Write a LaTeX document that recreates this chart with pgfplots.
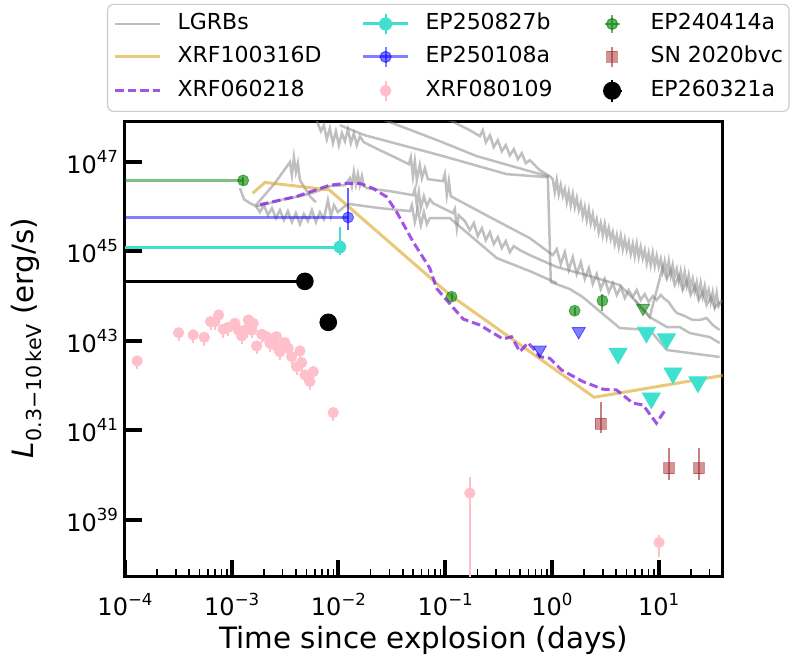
\documentclass[border=0pt]{standalone}
\usepackage{fontspec}
\setmainfont{DejaVu Sans}
\usepackage{pgfplots}
\pgfplotsset{compat=1.18}
\definecolor{turq}{RGB}{64,224,208}
\definecolor{lgreen}{RGB}{0,128,0}
\definecolor{gold}{RGB}{218,165,32}
\definecolor{bviolet}{RGB}{138,43,226}
\definecolor{pinkc}{RGB}{255,192,203}
\definecolor{brownc}{RGB}{165,42,42}
\newcommand{\tp}[1]{10\raisebox{0.45em}{\fontsize{8.3pt}{8.3pt}\selectfont #1}}
\begin{document}
\begin{tikzpicture}
\begin{axis}[
  at={(0,0)}, anchor=south west,
  scale only axis, width=299pt, height=227.5pt,
  xmode=log, ymode=log,
  xmin=1e-4, xmax=40, ymin=5.3e37, ymax=7.8e47,
  xtick={1e-4,1e-3,1e-2,1e-1,1,10},
  xticklabels={\tp{−4},\tp{−3},\tp{−2},\tp{−1},\tp{0},\tp{1}},
  minor xtick={2e-4,3e-4,4e-4,5e-4,6e-4,7e-4,8e-4,9e-4,2e-3,3e-3,4e-3,5e-3,6e-3,7e-3,8e-3,9e-3,0.02,0.03,0.04,0.05,0.06,0.07,0.08,0.09,0.2,0.3,0.4,0.5,0.6,0.7,0.8,0.9,2,3,4,5,6,7,8,9,20,30},
  ytick={1e39,1e41,1e43,1e45,1e47},
  yticklabels={\tp{39},\tp{41},\tp{43},\tp{45},\tp{47}},
  yminorticks=false,
  tick align=inside, tick pos=left,
  major tick length=8.5pt, minor tick length=4pt,
  major tick style={black, line width=2pt},
  minor tick style={black, line width=0.8pt},
  axis line style={line width=1.5pt},
  ticklabel style={font=\fontsize{12}{14}\selectfont},
  xticklabel style={anchor=base, yshift=-19.5pt},
  xlabel={Time since explosion (days)},
  ylabel={\textit{L}\raisebox{-0.28em}{\fontsize{10.3pt}{10.3pt}\selectfont 0.3−10\,keV} (erg/s)},
  every axis x label/.style={at={(rel axis cs:0.5,0)}, anchor=base, yshift=-36pt, font=\fontsize{14.7}{17}\selectfont},
  every axis y label/.style={at={(rel axis cs:0,0.525)}, xshift=-45.75pt, anchor=base, rotate=90, font=\fontsize{14.7}{17}\selectfont},
  legend columns=3,
  legend cell align=left,
  legend style={at={(-0.0301,1)}, anchor=south west, yshift=5pt,
    draw=black!20, line width=0.6pt, rounded corners=3pt,
    font=\fontsize{11}{13}\selectfont,
    inner xsep=3pt, inner ysep=4.3pt,
    nodes={inner sep=0pt, anchor=west, text height=8pt, text depth=2.3pt},
    row sep=5.45pt,
    /tikz/every odd column/.append style={column sep=8pt}},
]
% ---------- legend ----------
\addlegendimage{legend image code/.code={\path[draw=none,fill=none] (0pt,-5pt) rectangle (22.5pt,5pt); \draw[gray,opacity=0.5,line width=1.25pt,rounded corners=0pt] (0pt,0pt)--(22.5pt,0pt);}}
\addlegendentry{\makebox[92pt][l]{LGRBs}}
\addlegendimage{legend image code/.code={\path[draw=none,fill=none] (0pt,-5pt) rectangle (22.5pt,5pt); \draw[turq,line width=1.5pt] (0pt,0pt)--(22.5pt,0pt); \draw[turq,line width=1pt] (11.25pt,-5pt)--(11.25pt,5pt); \fill[turq] (11.25pt,0pt) circle (3pt);}}
\addlegendentry{\makebox[82pt][l]{EP250827b}}
\addlegendimage{legend image code/.code={\path[draw=none,fill=none] (0pt,-5pt) rectangle (22.5pt,5pt); \draw[lgreen,opacity=0.6,line width=1pt] (7.5pt,0pt)--(15pt,0pt) (11.25pt,-4.5pt)--(11.25pt,4.5pt); \filldraw[lgreen,fill opacity=0.6,draw opacity=0.6,line width=0.6pt] (11.25pt,0pt) circle (2.75pt);}}
\addlegendentry{EP240414a}
\addlegendimage{legend image code/.code={\path[draw=none,fill=none] (0pt,-5pt) rectangle (22.5pt,5pt); \draw[gold,opacity=0.6,line width=1.5pt] (0pt,0pt)--(22.5pt,0pt);}}
\addlegendentry{\makebox[92pt][l]{XRF100316D}}
\addlegendimage{legend image code/.code={\path[draw=none,fill=none] (0pt,-5pt) rectangle (22.5pt,5pt); \draw[blue,opacity=0.5,line width=1.5pt] (0pt,0pt)--(22.5pt,0pt); \draw[blue,opacity=0.5,line width=1pt] (11.25pt,-5pt)--(11.25pt,5pt); \filldraw[blue,fill opacity=0.5,draw opacity=0.5,line width=0.6pt] (11.25pt,0pt) circle (2.75pt);}}
\addlegendentry{\makebox[82pt][l]{EP250108a}}
\addlegendimage{legend image code/.code={\path[draw=none,fill=none] (0pt,-5pt) rectangle (22.5pt,5pt); \draw[brownc,opacity=0.6,line width=1pt] (11.25pt,-5pt)--(11.25pt,5pt); \filldraw[brownc,fill opacity=0.5,draw opacity=0.5,line width=0.6pt,rounded corners=0pt] (8.55pt,-2.7pt) rectangle (13.95pt,2.7pt);}}
\addlegendentry{SN 2020bvc}
\addlegendimage{legend image code/.code={\path[draw=none,fill=none] (0pt,-5pt) rectangle (22.5pt,5pt); \draw[bviolet,opacity=0.8,line width=1.5pt,dash pattern=on 4.25pt off 2pt] (0pt,0pt)--(22.5pt,0pt);}}
\addlegendentry{XRF060218}
\addlegendimage{legend image code/.code={\path[draw=none,fill=none] (0pt,-5pt) rectangle (22.5pt,5pt); \draw[pinkc,line width=1pt] (11.25pt,-5pt)--(11.25pt,5pt); \fill[pinkc] (11.25pt,0pt) circle (2.6pt);}}
\addlegendentry{XRF080109}
\addlegendimage{legend image code/.code={\path[draw=none,fill=none] (0pt,-5pt) rectangle (22.5pt,5pt); \draw[black,line width=1pt] (6.5pt,0pt)--(16pt,0pt) (11.25pt,-5.5pt)--(11.25pt,5.5pt); \fill[black] (11.25pt,0pt) circle (4.2pt);}}
\addlegendentry{EP260321a}
% ---------- LGRBs ----------
\pgfplotsset{grb/.style={forget plot, draw=gray, draw opacity=0.5, line width=1.25pt, mark=none}}
\addplot[grb] coordinates {(1.03e-2,6.59e47) (1.766e-2,3.94e47) (8.89e-2,1.41e47) (0.3776,5.31e46) (0.914,4.55e46)};
\addplot[grb] coordinates {(2.06e-2,1.10e48) (3.23e-2,7.31e47) (8.89e-2,2.90e47) (0.198,1.34e47) (0.619,6.19e46) (0.914,4.80e46) (0.975,2.06e44) (1.47,1.44e44) (1.94,9.55e43) (4.31,1.94e43) (8.24,1.75e43) (11.9,6.26e42) (37.2,4.37e42)};
\addplot[grb] coordinates {(8.89e-2,1.10e48) (0.1256,7.31e47) (0.170,5.10e47) (0.211,3.75e47) (0.225,5.10e47) (0.240,2.75e47) (0.262,3.94e47) (0.285,2.13e47) (0.311,3.05e47) (0.339,1.73e47) (0.369,2.36e47) (0.403,1.41e47) (0.439,1.92e47) (0.479,1.15e47) (0.521,1.56e47) (0.569,9.35e46) (0.619,1.09e47) (0.769,6.53e46) (0.953,4.80e46)
 (1.017,4.11e46) (1.062,2.11e46) (1.109,3.91e46) (1.158,1.90e46) (1.208,3.02e46) (1.262,1.71e46) (1.318,2.46e46) (1.376,1.26e46) (1.436,2.11e46) (1.499,1.08e46) (1.566,1.90e46) (1.635,9.75e45) (1.706,1.55e46) (1.782,8.35e45) (1.862,1.20e46) (1.943,6.14e45) (2.028,9.75e45) (2.119,5.00e45) (2.213,8.80e45) (2.309,4.28e45) (2.410,6.80e45) (2.515,3.67e45) (2.624,5.26e45) (2.741,2.70e45) (2.864,4.28e45) (2.989,2.31e45) (3.119,4.07e45) (3.258,2.09e45) (3.404,3.31e45) (3.552,1.88e45) (3.707,2.70e45) (3.873,1.46e45) (4.046,2.31e45) (4.222,1.25e45) (4.406,2.20e45) (4.603,1.12e45) (4.808,1.88e45) (5.017,1.07e45) (5.236,1.61e45) (5.470,8.70e44) (5.715,1.46e45) (5.963,7.86e44) (6.223,1.46e45) (6.494,7.46e44) (6.776,1.25e45) (7.079,7.08e44) (7.396,1.07e45) (7.718,5.48e44) (8.054,9.16e44) (8.414,4.95e44) (8.790,9.16e44) (9.173,4.70e44) (9.572,7.86e44) (10.00,4.47e44) (10.45,6.73e44) (10.90,3.63e44) (11.38,6.07e44) (11.89,3.28e44) (12.42,6.07e44) (12.96,2.96e44) (13.52,4.95e44) (14.13,2.81e44) (14.76,4.03e44) (15.40,2.17e44) (16.07,3.63e44) (16.77,1.86e44) (17.50,3.45e44) (18.28,1.77e44) (19.10,2.96e44) (19.93,1.60e44) (20.80,2.41e44) (21.73,1.30e44) (22.70,2.06e44) (23.69,1.11e44) (24.72,1.96e44) (25.83,1.00e44) (26.98,1.68e44) (28.16,9.55e43) (29.38,1.37e44) (30.69,7.38e43) (32.06,1.23e44) (33.46,6.33e43) (34.91,1.17e44) (36.4,6.01e43) (38.9,8.18e43)};
\addplot[grb] coordinates {(6.14e-3,9.45e47) (6.84e-3,4.84e47) (7.29e-3,6.59e47) (7.78e-3,3.21e47) (8.30e-3,5.65e47) (8.87e-3,2.61e47) (9.46e-3,4.84e47) (1.009e-2,2.36e47) (1.076e-2,4.37e47) (1.148e-2,2.90e47) (1.225e-2,5.37e47) (1.306e-2,2.61e47) (1.393e-2,4.37e47) (1.486e-2,2.36e47) (1.585e-2,3.75e47) (1.730e-2,2.75e47) (2.443e-2,1.82e47) (3.37e-2,1.27e47) (4.56e-2,8.89e46) (4.76e-2,1.27e47) (4.98e-2,4.80e46) (5.19e-2,1.04e47) (5.42e-2,3.91e46) (5.78e-2,8.44e46) (6.04e-2,4.33e46) (6.44e-2,7.23e46) (6.87e-2,4.11e46) (9.51e-2,3.71e46) (9.91e-2,5.31e46) (0.1035,1.81e46) (0.1081,3.71e46) (0.1127,1.71e46) (0.262,5.83e45) (0.619,1.98e45)
 (1.017,8.26e44) (1.109,1.12e45) (1.208,5.20e44) (1.318,9.64e44) (1.436,3.83e44) (1.566,7.46e44) (1.706,3.11e44) (1.862,5.77e44) (2.028,2.41e44) (2.213,4.24e44) (2.410,1.86e44) (2.624,3.11e44) (2.864,1.44e44) (3.119,2.41e44) (3.404,1.23e44) (3.707,1.96e44) (4.046,1.06e44) (4.406,1.60e44) (4.808,9.07e43) (5.236,1.37e44) (5.715,9.55e43) (6.223,1.37e44) (6.776,8.18e43) (7.396,1.11e44) (8.054,7.38e43) (8.790,1.00e44) (9.572,8.18e43) (10.45,1.06e44) (11.38,8.61e43) (12.42,7.38e43) (13.52,5.42e43) (14.76,4.20e43) (17.50,3.60e43) (20.80,2.93e43) (24.2,2.93e43) (28.1,3.24e43) (32.06,2.26e43) (37.24,1.75e43)};
\addplot[grb] coordinates {(1.194e-3,2.59e46) (1.301e-3,1.47e46) (1.480e-3,1.20e46) (1.685e-3,1.03e46) (1.960e-3,1.08e46) (2.280e-3,1.20e46) (2.827e-3,1.40e46) (3.507e-3,1.55e46) (4.35e-3,1.71e46) (6.01e-3,2.11e46) (8.30e-3,2.87e46) (1.148e-2,3.02e46) (1.279e-2,4.33e46) (1.334e-2,2.87e46) (1.393e-2,5.89e46) (1.455e-2,3.18e46) (1.520e-2,5.31e46) (1.585e-2,3.02e46) (1.656e-2,4.80e46) (1.730e-2,2.87e46) (1.845e-2,2.59e46) (3.03e-2,2.22e46) (4.98e-2,1.81e46) (5.19e-2,2.46e46) (5.42e-2,1.08e46) (5.66e-2,2.11e46) (5.91e-2,9.26e45) (6.31e-2,1.71e46) (6.73e-2,1.03e46) (7.18e-2,1.47e46) (7.66e-2,1.20e46) (0.1178,7.16e45) (0.1230,8.80e45) (0.1285,3.31e45) (0.1340,6.46e45) (0.1528,4.75e45) (0.170,2.99e45) (0.1854,4.28e45) (0.2018,2.20e45) (0.2203,3.31e45) (0.240,1.79e45) (0.262,2.70e45) (0.285,1.46e45) (0.311,2.09e45) (0.339,1.19e45) (0.369,1.70e45) (0.403,9.64e44) (0.439,1.31e45) (0.500,1.07e45) (0.619,8.26e44) (1.109,4.47e44) (2.26,2.81e44) (4.31,1.77e44) (5.96,8.18e43) (8.24,3.41e43) (11.9,2.04e43) (15.7,2.04e43) (19.5,1.50e43) (30.0,1.22e43) (37.2,8.97e42)};
\addplot[grb] coordinates {(1.685e-3,1.03e46) (1.837e-3,7.54e45) (2.001e-3,1.08e46) (2.183e-3,6.46e45) (2.379e-3,9.26e45) (2.594e-3,5.54e45) (2.827e-3,8.35e45) (3.083e-3,5.00e45) (3.359e-3,7.94e45) (3.662e-3,4.51e45) (3.992e-3,7.16e45) (4.35e-3,4.07e45) (4.74e-3,6.80e45) (5.17e-3,4.75e45) (5.64e-3,8.35e45) (6.14e-3,4.51e45) (6.70e-3,7.54e45) (7.29e-3,5.26e45) (7.96e-3,1.40e46) (8.49e-3,6.14e45) (9.06e-3,1.08e46) (9.86e-3,7.54e45) (1.148e-2,1.03e46) (1.279e-2,1.14e46) (2.443e-2,9.26e45) (4.67e-2,7.94e45) (4.87e-2,1.08e46) (5.19e-2,4.51e45) (5.53e-2,8.80e45) (5.91e-2,3.86e45) (6.31e-2,7.54e45) (6.73e-2,4.07e45) (7.18e-2,5.54e45) (0.1104,5.54e45) (0.170,2.31e45) (0.304,7.08e44) (0.619,3.63e44) (1.109,1.96e44)};
\addplot[grb] coordinates {(1.685e-3,1.08e46) (2.538e-3,3.35e46) (3.507e-3,9.85e46) (3.662e-3,5.05e46) (3.823e-3,1.27e47) (3.992e-3,5.89e46) (4.168e-3,9.35e46) (4.35e-3,3.91e46) (4.845e-3,2.59e46) (5.40e-3,1.71e46) (6.14e-3,1.26e46)};
\addplot[grb] coordinates {(5.96,8.18e43) (8.24,3.41e43) (10.90,4.47e44) (11.9,2.41e44) (12.95,3.83e44) (14.12,1.77e44) (15.39,2.81e44) (16.78,1.37e44) (18.28,2.17e44) (19.94,1.06e44) (21.73,1.68e44) (23.70,8.18e43) (25.82,1.23e44) (28.1,6.33e43) (30.69,9.55e43) (33.42,5.42e43) (37.2,7.38e43)};
% ---------- XRF100316D ----------
\addplot[forget plot, draw=gold, draw opacity=0.6, line width=1.5pt] coordinates {(1.57e-3,2.0e46) (2.05e-3,3.47e46) (8.2e-3,2.37e46) (0.1104,1.07e44) (2.48,5.5e41) (40,1.69e42)};
% ---------- XRF060218 ----------
\addplot[forget plot, draw=bviolet, draw opacity=0.8, line width=1.5pt, dash pattern=on 4.25pt off 2pt] coordinates {(1.84e-3,1.11e46) (4.06e-3,1.69e46) (8.30e-3,3.02e46) (1.15e-2,3.30e46) (1.585e-2,3.30e46) (2.11e-2,2.55e46) (2.82e-2,1.66e46) (3.50e-2,7.66e45) (5.0e-2,1.64e45) (7.18e-2,4.18e44) (8.30e-2,1.49e44) (0.103,8.18e43) (0.147,3.08e43) (0.211,2.26e43) (0.348,1.10e43) (0.418,1.24e43) (0.500,5.74e42) (0.597,9.12e42) (0.665,6.84e42) (0.769,4.44e42) (0.953,4.09e42) (1.227,2.24e42) (1.954,1.23e42) (3.01,8.32e41) (4.02,8.02e41) (5.74,4.05e41) (7.13,3.71e41) (9.51,1.45e41) (11.8,3.13e41)};
% ---------- horizontal lines ----------
\addplot[forget plot, draw=lgreen, draw opacity=0.5, line width=1.5pt] coordinates {(1e-4,3.85e46) (1.28e-3,3.85e46)};
\addplot[forget plot, draw=blue, draw opacity=0.5, line width=1.5pt] coordinates {(1e-4,5.74e45) (0.0123,5.74e45)};
\addplot[forget plot, draw=turq, line width=1.5pt] coordinates {(1e-4,1.25e45) (0.0103,1.25e45)};
\addplot[forget plot, draw=black, line width=1.5pt] coordinates {(1e-4,2.14e44) (4.84e-3,2.14e44)};
% ---------- XRF080109 ----------
\addplot[forget plot, draw=pinkc, line width=1pt, unbounded coords=jump] coordinates {
(1.30e-4,3.56e42) (1.30e-4,2.31e42) (1.30e-4,nan)
(3.18e-4,1.52e43) (3.18e-4,9.9e42) (3.18e-4,nan)
(4.36e-4,1.36e43) (4.36e-4,8.8e42) (4.36e-4,nan)
(5.53e-4,1.20e43) (5.53e-4,7.8e42) (5.53e-4,nan)
(6.34e-4,2.69e43) (6.34e-4,1.75e43) (6.34e-4,nan)
(6.96e-4,2.69e43) (6.96e-4,1.75e43) (6.96e-4,nan)
(7.54e-4,3.79e43) (7.54e-4,2.46e43) (7.54e-4,nan)
(8.33e-4,1.82e43) (8.33e-4,1.18e43) (8.33e-4,nan)
(9.27e-4,2.01e43) (9.27e-4,1.31e43) (9.27e-4,nan)
(1.07e-3,2.47e43) (1.07e-3,1.61e43) (1.07e-3,nan)
(1.15e-3,1.75e43) (1.15e-3,1.14e43) (1.15e-3,nan)
(1.24e-3,1.29e43) (1.24e-3,8.4e42) (1.24e-3,nan)
(1.28e-3,1.52e43) (1.28e-3,9.9e42) (1.28e-3,nan)
(1.38e-3,1.82e43) (1.38e-3,1.18e43) (1.38e-3,nan)
(1.43e-3,2.93e43) (1.43e-3,1.90e43) (1.43e-3,nan)
(1.54e-3,1.75e43) (1.54e-3,1.14e43) (1.54e-3,nan)
(1.59e-3,2.47e43) (1.59e-3,1.61e43) (1.59e-3,nan)
(1.71e-3,7.69e42) (1.71e-3,5.0e42) (1.71e-3,nan)
(1.91e-3,1.40e43) (1.91e-3,9.1e42) (1.91e-3,nan)
(2.12e-3,1.24e43) (2.12e-3,8.1e42) (2.12e-3,nan)
(2.28e-3,8.83e42) (2.28e-3,5.7e42) (2.28e-3,nan)
(2.36e-3,1.09e43) (2.36e-3,7.1e42) (2.36e-3,nan)
(2.54e-3,8.10e42) (2.54e-3,5.3e42) (2.54e-3,nan)
(2.63e-3,1.24e43) (2.63e-3,8.1e42) (2.63e-3,nan)
(2.83e-3,5.74e42) (2.83e-3,3.7e42) (2.83e-3,nan)
(3.15e-3,9.12e42) (3.15e-3,5.9e42) (3.15e-3,nan)
(3.38e-3,6.84e42) (3.38e-3,4.4e42) (3.38e-3,nan)
(3.64e-3,4.44e42) (3.64e-3,2.9e42) (3.64e-3,nan)
(4.05e-3,2.65e42) (4.05e-3,1.72e42) (4.05e-3,nan)
(4.35e-3,5.96e42) (4.35e-3,3.9e42) (4.35e-3,nan)
(4.52e-3,3.26e42) (4.52e-3,2.1e42) (4.52e-3,nan)
(4.85e-3,1.73e42) (4.85e-3,1.12e42) (4.85e-3,nan)
(5.40e-3,1.23e42) (5.40e-3,8.0e41) (5.40e-3,nan)
(5.80e-3,2.05e42) (5.80e-3,1.33e42) (5.80e-3,nan)
(8.92e-3,2.49e41) (8.92e-3,1.62e41) (8.92e-3,nan)
(0.170,9.3e39) (0.170,1e37) (0.170,nan)
(10.07,4.64e38) (10.07,1.48e38)};
\addplot[forget plot, only marks, mark=*, mark size=2.6pt, mark options={fill=pinkc, draw=pinkc}] coordinates {
(1.30e-4,3.56e42) (3.18e-4,1.52e43) (4.36e-4,1.36e43) (5.53e-4,1.20e43) (6.34e-4,2.69e43) (6.96e-4,2.69e43) (7.54e-4,3.79e43) (8.33e-4,1.82e43) (9.27e-4,2.01e43) (1.07e-3,2.47e43) (1.15e-3,1.75e43) (1.24e-3,1.29e43) (1.28e-3,1.52e43) (1.38e-3,1.82e43) (1.43e-3,2.93e43) (1.54e-3,1.75e43) (1.59e-3,2.47e43) (1.71e-3,7.69e42) (1.91e-3,1.40e43) (2.12e-3,1.24e43) (2.28e-3,8.83e42) (2.36e-3,1.09e43) (2.54e-3,8.10e42) (2.63e-3,1.24e43) (2.83e-3,5.74e42) (3.15e-3,9.12e42) (3.38e-3,6.84e42) (3.64e-3,4.44e42) (4.05e-3,2.65e42) (4.35e-3,5.96e42) (4.52e-3,3.26e42) (4.85e-3,1.73e42) (5.40e-3,1.23e42) (5.80e-3,2.05e42) (8.92e-3,2.49e41) (0.170,3.96e39) (10.07,3.13e38)};
% ---------- SN 2020bvc ----------
\addplot[forget plot, draw=brownc, draw opacity=0.6, line width=1pt, unbounded coords=jump] coordinates {(2.86,4.26e41) (2.86,8.9e40) (2.86,nan) (12.5,4.0e40) (12.5,7.9e39) (12.5,nan) (23.8,4.0e40) (23.8,7.9e39)};
\addplot[forget plot, only marks, mark=square*, mark size=2.7pt, mark options={fill=brownc, draw=brownc, fill opacity=0.5, draw opacity=0.5}] coordinates {(2.86,1.40e41) (12.5,1.43e40) (23.8,1.43e40)};
% ---------- EP240414a ----------
\addplot[forget plot, draw=lgreen, draw opacity=0.6, line width=1pt, unbounded coords=jump] coordinates {(1.28e-3,4.7e46) (1.28e-3,3.1e46) (1.28e-3,nan) (0.1146,1.19e44) (0.1146,7.9e43) (0.1146,nan) (1.63,5.8e43) (1.63,3.85e43) (1.63,nan) (2.97,1.11e44) (2.97,4.72e43)};
\addplot[forget plot, only marks, mark=*, mark size=2.75pt, mark options={fill=lgreen, draw=lgreen, fill opacity=0.6, draw opacity=0.6}] coordinates {(1.28e-3,3.85e46) (0.1146,9.7e43) (1.63,4.72e43) (2.97,7.9e43)};
\addplot[forget plot, only marks, mark=triangle*, mark size=3.75pt, mark options={rotate=180, yshift=-0.94pt, fill=lgreen, draw=lgreen, fill opacity=0.55, draw opacity=0.6}] coordinates {(7.13,4.9e43)};
% ---------- EP250108a ----------
\addplot[forget plot, draw=blue, draw opacity=0.6, line width=1pt] coordinates {(0.0123,2.59e46) (0.0123,3.03e45)};
\addplot[forget plot, only marks, mark=*, mark size=2.75pt, mark options={fill=blue, draw=blue, fill opacity=0.5, draw opacity=0.5}] coordinates {(0.0123,5.74e45)};
\addplot[forget plot, only marks, mark=triangle*, mark size=3.75pt, mark options={rotate=180, yshift=-0.94pt, fill=blue, draw=blue, fill opacity=0.5, draw opacity=0.6}] coordinates {(0.769,5.74e42) (1.78,1.48e43)};
% ---------- EP250827b ----------
\addplot[forget plot, draw=turq, line width=1pt] coordinates {(0.0103,3.48e45) (0.0103,8.4e44)};
\addplot[forget plot, only marks, mark=*, mark size=3pt, mark options={fill=turq, draw=turq}] coordinates {(0.0103,1.25e45)};
\addplot[forget plot, only marks, mark=triangle*, mark size=5.2pt, mark options={rotate=180, yshift=-1.3pt, fill=turq, draw=turq}] coordinates {(4.16,4.6e42) (7.67,1.35e43) (11.8,9.6e42) (13.6,1.66e42) (23.3,1.05e42) (8.53,4.6e41)};
% ---------- EP260321a ----------
\addplot[forget plot, only marks, mark=*, mark size=4.2pt, mark options={fill=black, draw=black}] coordinates {(4.84e-3,2.14e44) (8.02e-3,2.60e43)};
\end{axis}
\pgfresetboundingbox
\path (-62.5pt,-46pt) rectangle (333.5pt,288.5pt);
\end{tikzpicture}
\end{document}
